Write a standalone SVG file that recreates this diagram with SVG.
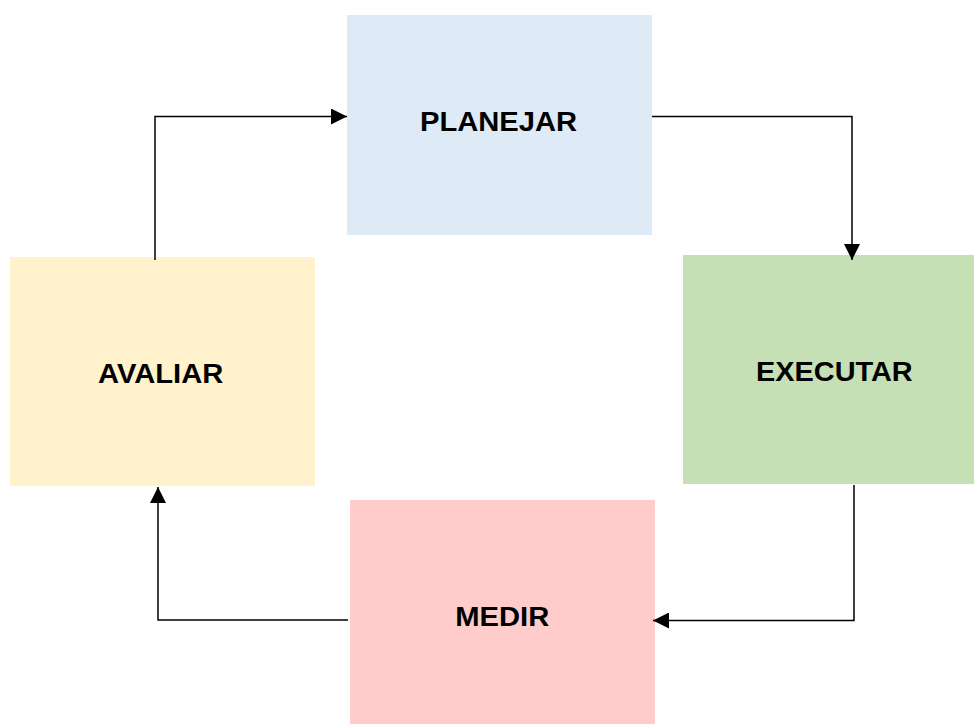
<svg xmlns="http://www.w3.org/2000/svg" width="974" height="724" viewBox="0 0 974 724">
  <style>
    .label { font-family: "Liberation Sans", Arial, sans-serif; font-weight: bold; font-size: 27px; fill: #000; }
    .link { fill: none; stroke: #000; stroke-width: 1.5; marker-end: url(#arrow); }
  </style>
  <defs>
    <marker id="arrow" markerUnits="userSpaceOnUse" markerWidth="16" markerHeight="16" viewBox="0 0 16 16" refX="16" refY="8" orient="auto">
      <path d="M0,0 L16,8 L0,16 Z" fill="#000"/>
    </marker>
  </defs>
  <rect width="974" height="724" fill="#fff"/>

  <!-- labels are slightly widened horizontally -->
  <g id="planejar">
    <rect x="347" y="15" width="305" height="220" fill="#DEEAF6"/>
    <text class="label" transform="translate(420,131.3) scale(1.08,1)">PLANEJAR</text>
  </g>
  <g id="executar">
    <rect x="683" y="255" width="291" height="229" fill="#C5E0B4"/>
    <text class="label" transform="translate(756,381.3) scale(1.07,1)">EXECUTAR</text>
  </g>
  <g id="medir">
    <rect x="350" y="500" width="305" height="224" fill="#FFCCCC"/>
    <text class="label" transform="translate(455.3,626.3) scale(1.08,1)">MEDIR</text>
  </g>
  <g id="avaliar">
    <rect x="10" y="257" width="305" height="229" fill="#FFF2CC"/>
    <text class="label" transform="translate(98,383.3) scale(1.08,1)">AVALIAR</text>
  </g>

  <g id="connectors">
    <path class="link" d="M155,260 V116.5 H347"/>
    <path class="link" d="M652,116.5 H852 V260"/>
    <path class="link" d="M854,485 V620.5 H653"/>
    <path class="link" d="M348,620 H158 V487"/>
  </g>
</svg>
